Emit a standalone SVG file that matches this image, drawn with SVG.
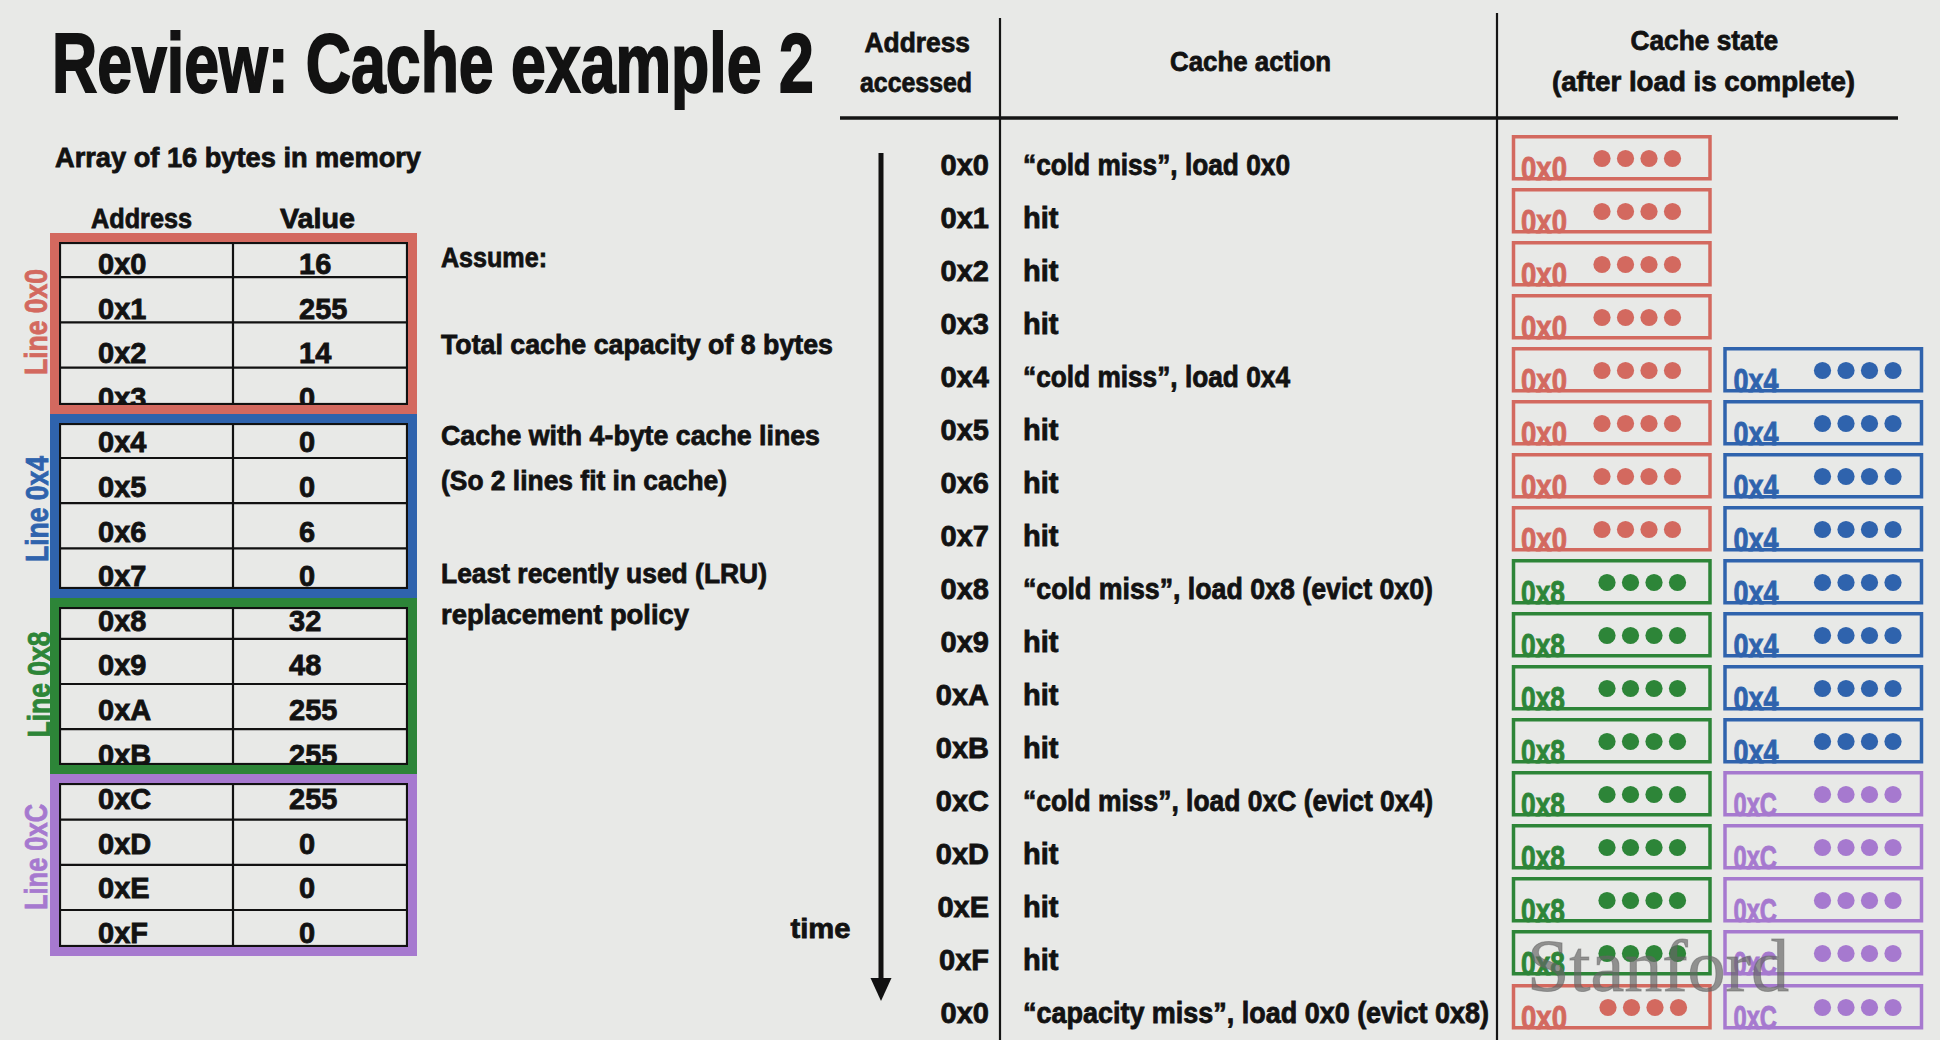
<svg xmlns="http://www.w3.org/2000/svg" xmlns:xlink="http://www.w3.org/1999/xlink" width="1940" height="1040" viewBox="0 0 1940 1040">
<style>
  text { font-family: "Liberation Sans", Arial, Helvetica, sans-serif; font-weight: bold; fill: #121212; stroke: #121212; stroke-width: 0.8px; }
  .title { font-size: 84px; stroke-width: 2px; }
  .sub { font-size: 28.5px; }
  .cell { font-size: 29px; }
  .linelbl { font-size: 31px; }
  .tag { font-size: 34px; stroke-width: 0.9px; }
  .wm { font-family: "Liberation Serif", "Times New Roman", serif; font-weight: normal; font-size: 74px; fill: #666; fill-opacity: 0.68; stroke: #666; stroke-opacity: 0.5; stroke-width: 1px; }
  .grid { stroke: #111; stroke-width: 2.2; fill: none; }
  .band { fill: none; stroke-width: 9; }
  .slot { fill: none; stroke-width: 3.5; }
  .rule { stroke: #151515; fill: none; }
  .c-red { stroke: #d3695f; }
  .c-blue { stroke: #2f63ad; }
  .c-green { stroke: #2d8538; }
  .c-purple { stroke: #a679cf; }
  .f-red { fill: #d3695f; stroke: #d3695f; }
  .f-blue { fill: #2f63ad; stroke: #2f63ad; }
  .f-green { fill: #2d8538; stroke: #2d8538; }
  .f-purple { fill: #a679cf; stroke: #a679cf; }
  use { stroke-width: 0; }
</style>
<defs>
  <!-- four data bytes held by one cache line -->
  <g id="dots">
    <circle cx="0" cy="0" r="8.6"/>
    <circle cx="23.5" cy="0" r="8.6"/>
    <circle cx="47" cy="0" r="8.6"/>
    <circle cx="70.5" cy="0" r="8.6"/>
  </g>
</defs>

<rect x="0" y="0" width="1940" height="1040" fill="#e8e9e7"/>

<g id="title">
  <!-- condensed heading: the bold face is squeezed horizontally -->
  <text class="title" transform="translate(52,92) scale(0.7453,1)" x="0" y="0" textLength="1022" lengthAdjust="spacingAndGlyphs">Review: Cache example 2</text>
  <text class="sub" x="55" y="167" textLength="366" lengthAdjust="spacingAndGlyphs">Array of 16 bytes in memory</text>
</g>

<!-- memory array: address / value table split into 4-byte lines -->
<g id="memory">
  <text class="sub" x="91" y="228" textLength="101" lengthAdjust="spacingAndGlyphs">Address</text>
  <text class="sub" x="280" y="228" textLength="75" lengthAdjust="spacingAndGlyphs">Value</text>

  <g class="cell">
    <text x="98" y="274">0x0</text><text x="299" y="274">16</text>
    <text x="98" y="318.6">0x1</text><text x="299" y="318.6">255</text>
    <text x="98" y="363.2">0x2</text><text x="299" y="363.2">14</text>
    <text x="98" y="407.8">0x3</text><text x="299" y="407.8">0</text>
    <text x="98" y="452.4">0x4</text><text x="299" y="452.4">0</text>
    <text x="98" y="497">0x5</text><text x="299" y="497">0</text>
    <text x="98" y="541.6">0x6</text><text x="299" y="541.6">6</text>
    <text x="98" y="586.2">0x7</text><text x="299" y="586.2">0</text>
    <text x="98" y="630.8">0x8</text><text x="289" y="630.8">32</text>
    <text x="98" y="675.4">0x9</text><text x="289" y="675.4">48</text>
    <text x="98" y="720">0xA</text><text x="289" y="720">255</text>
    <text x="98" y="764.6">0xB</text><text x="289" y="764.6">255</text>
    <text x="98" y="809.2">0xC</text><text x="289" y="809.2">255</text>
    <text x="98" y="853.8">0xD</text><text x="299" y="853.8">0</text>
    <text x="98" y="898.4">0xE</text><text x="299" y="898.4">0</text>
    <text x="98" y="943">0xF</text><text x="299" y="943">0</text>
  </g>

  <g class="grid">
    <line x1="233" y1="233" x2="233" y2="956"/>
    <line x1="60" y1="277.2" x2="407" y2="277.2"/>
    <line x1="60" y1="322.4" x2="407" y2="322.4"/>
    <line x1="60" y1="367.6" x2="407" y2="367.6"/>
    <line x1="60" y1="458" x2="407" y2="458"/>
    <line x1="60" y1="503.2" x2="407" y2="503.2"/>
    <line x1="60" y1="548.4" x2="407" y2="548.4"/>
    <line x1="60" y1="638.8" x2="407" y2="638.8"/>
    <line x1="60" y1="684" x2="407" y2="684"/>
    <line x1="60" y1="729.2" x2="407" y2="729.2"/>
    <line x1="60" y1="819.6" x2="407" y2="819.6"/>
    <line x1="60" y1="864.8" x2="407" y2="864.8"/>
    <line x1="60" y1="910" x2="407" y2="910"/>
    <rect x="60" y="243" width="347" height="161"/>
    <rect x="60" y="424" width="347" height="164"/>
    <rect x="60" y="608" width="347" height="156"/>
    <rect x="60" y="784" width="347" height="162"/>
  </g>

  <g id="line-0x0">
    <rect class="band c-red" x="54.5" y="237.5" width="358" height="172"/>
    <text class="linelbl f-red" transform="translate(47,322) rotate(-90)" text-anchor="middle" textLength="106" lengthAdjust="spacingAndGlyphs">Line 0x0</text>
  </g>
  <g id="line-0x4">
    <rect class="band c-blue" x="54.5" y="418.5" width="358" height="175"/>
    <text class="linelbl f-blue" transform="translate(48,509) rotate(-90)" text-anchor="middle" textLength="106" lengthAdjust="spacingAndGlyphs">Line 0x4</text>
  </g>
  <g id="line-0x8">
    <rect class="band c-green" x="54.5" y="602.5" width="358" height="167"/>
    <text class="linelbl f-green" transform="translate(49.5,684.5) rotate(-90)" text-anchor="middle" textLength="106" lengthAdjust="spacingAndGlyphs">Line 0x8</text>
  </g>
  <g id="line-0xC">
    <rect class="band c-purple" x="54.5" y="778.5" width="358" height="173"/>
    <text class="linelbl f-purple" transform="translate(47,857) rotate(-90)" text-anchor="middle" textLength="106" lengthAdjust="spacingAndGlyphs">Line 0xC</text>
  </g>
</g>

<g id="assumptions" class="sub">
  <text x="441" y="266.5" textLength="106" lengthAdjust="spacingAndGlyphs">Assume:</text>
  <text x="441" y="354" textLength="392" lengthAdjust="spacingAndGlyphs">Total cache capacity of 8 bytes</text>
  <text x="441" y="445" textLength="379" lengthAdjust="spacingAndGlyphs">Cache with 4-byte cache lines</text>
  <text x="441" y="490" textLength="286" lengthAdjust="spacingAndGlyphs">(So 2 lines fit in cache)</text>
  <text x="441" y="583" textLength="326" lengthAdjust="spacingAndGlyphs">Least recently used (LRU)</text>
  <text x="441" y="624" textLength="248" lengthAdjust="spacingAndGlyphs">replacement policy</text>
</g>

<!-- access trace: column headings and rules -->
<g id="trace-header" class="sub">
  <text x="864.5" y="52" textLength="105.5" lengthAdjust="spacingAndGlyphs">Address</text>
  <text x="860" y="92" textLength="112" lengthAdjust="spacingAndGlyphs">accessed</text>
  <text x="1170" y="71" textLength="161" lengthAdjust="spacingAndGlyphs">Cache action</text>
  <text x="1630.5" y="50" textLength="147.5" lengthAdjust="spacingAndGlyphs">Cache state</text>
  <text x="1552" y="91" textLength="303" lengthAdjust="spacingAndGlyphs">(after load is complete)</text>
  <line class="rule" x1="840" y1="118" x2="1898" y2="118" stroke-width="3.5" stroke="#333"/>
  <line class="rule" x1="1000" y1="18" x2="1000" y2="1040" stroke-width="2.2"/>
  <line class="rule" x1="1497" y1="13" x2="1497" y2="1040" stroke-width="2.2"/>
</g>

<g id="trace-rows" class="cell">
  <g text-anchor="end">
    <text x="989" y="175">0x0</text>
    <text x="989" y="228">0x1</text>
    <text x="989" y="281">0x2</text>
    <text x="989" y="334">0x3</text>
    <text x="989" y="387">0x4</text>
    <text x="989" y="440">0x5</text>
    <text x="989" y="493">0x6</text>
    <text x="989" y="546">0x7</text>
    <text x="989" y="599">0x8</text>
    <text x="989" y="652">0x9</text>
    <text x="989" y="705">0xA</text>
    <text x="989" y="758">0xB</text>
    <text x="989" y="811">0xC</text>
    <text x="989" y="864">0xD</text>
    <text x="989" y="917">0xE</text>
    <text x="989" y="970">0xF</text>
    <text x="989" y="1023">0x0</text>
  </g>
  <text x="1023" y="175" textLength="267" lengthAdjust="spacingAndGlyphs">“cold miss”, load 0x0</text>
  <text x="1023" y="228">hit</text>
  <text x="1023" y="281">hit</text>
  <text x="1023" y="334">hit</text>
  <text x="1023" y="387" textLength="267" lengthAdjust="spacingAndGlyphs">“cold miss”, load 0x4</text>
  <text x="1023" y="440">hit</text>
  <text x="1023" y="493">hit</text>
  <text x="1023" y="546">hit</text>
  <text x="1023" y="599" textLength="410" lengthAdjust="spacingAndGlyphs">“cold miss”, load 0x8 (evict 0x0)</text>
  <text x="1023" y="652">hit</text>
  <text x="1023" y="705">hit</text>
  <text x="1023" y="758">hit</text>
  <text x="1023" y="811" textLength="410" lengthAdjust="spacingAndGlyphs">“cold miss”, load 0xC (evict 0x4)</text>
  <text x="1023" y="864">hit</text>
  <text x="1023" y="917">hit</text>
  <text x="1023" y="970">hit</text>
  <text x="1023" y="1023" textLength="466" lengthAdjust="spacingAndGlyphs">“capacity miss”, load 0x0 (evict 0x8)</text>
</g>

<!-- cache contents after each access: slot 1 on the left, slot 2 on the right -->
<g id="cache-state">
  <g id="state-0">
    <rect class="slot c-red" x="1513.5" y="136.75" width="196.5" height="42"/>
    <text class="tag f-red" x="1521" y="180" textLength="46" lengthAdjust="spacingAndGlyphs">0x0</text>
    <use xlink:href="#dots" x="1602" y="158.5" class="f-red"/>
  </g>
  <g id="state-1">
    <rect class="slot c-red" x="1513.5" y="189.75" width="196.5" height="42"/>
    <text class="tag f-red" x="1521" y="233" textLength="46" lengthAdjust="spacingAndGlyphs">0x0</text>
    <use xlink:href="#dots" x="1602" y="211.5" class="f-red"/>
  </g>
  <g id="state-2">
    <rect class="slot c-red" x="1513.5" y="242.75" width="196.5" height="42"/>
    <text class="tag f-red" x="1521" y="286" textLength="46" lengthAdjust="spacingAndGlyphs">0x0</text>
    <use xlink:href="#dots" x="1602" y="264.5" class="f-red"/>
  </g>
  <g id="state-3">
    <rect class="slot c-red" x="1513.5" y="295.75" width="196.5" height="42"/>
    <text class="tag f-red" x="1521" y="339" textLength="46" lengthAdjust="spacingAndGlyphs">0x0</text>
    <use xlink:href="#dots" x="1602" y="317.5" class="f-red"/>
  </g>
  <g id="state-4">
    <rect class="slot c-red" x="1513.5" y="348.75" width="196.5" height="42"/>
    <text class="tag f-red" x="1521" y="392" textLength="46" lengthAdjust="spacingAndGlyphs">0x0</text>
    <use xlink:href="#dots" x="1602" y="370.5" class="f-red"/>
    <rect class="slot c-blue" x="1725" y="348.75" width="196.5" height="42"/>
    <text class="tag f-blue" x="1733.5" y="392" textLength="45" lengthAdjust="spacingAndGlyphs">0x4</text>
    <use xlink:href="#dots" x="1822.5" y="370.5" class="f-blue"/>
  </g>
  <g id="state-5">
    <rect class="slot c-red" x="1513.5" y="401.75" width="196.5" height="42"/>
    <text class="tag f-red" x="1521" y="445" textLength="46" lengthAdjust="spacingAndGlyphs">0x0</text>
    <use xlink:href="#dots" x="1602" y="423.5" class="f-red"/>
    <rect class="slot c-blue" x="1725" y="401.75" width="196.5" height="42"/>
    <text class="tag f-blue" x="1733.5" y="445" textLength="45" lengthAdjust="spacingAndGlyphs">0x4</text>
    <use xlink:href="#dots" x="1822.5" y="423.5" class="f-blue"/>
  </g>
  <g id="state-6">
    <rect class="slot c-red" x="1513.5" y="454.75" width="196.5" height="42"/>
    <text class="tag f-red" x="1521" y="498" textLength="46" lengthAdjust="spacingAndGlyphs">0x0</text>
    <use xlink:href="#dots" x="1602" y="476.5" class="f-red"/>
    <rect class="slot c-blue" x="1725" y="454.75" width="196.5" height="42"/>
    <text class="tag f-blue" x="1733.5" y="498" textLength="45" lengthAdjust="spacingAndGlyphs">0x4</text>
    <use xlink:href="#dots" x="1822.5" y="476.5" class="f-blue"/>
  </g>
  <g id="state-7">
    <rect class="slot c-red" x="1513.5" y="507.75" width="196.5" height="42"/>
    <text class="tag f-red" x="1521" y="551" textLength="46" lengthAdjust="spacingAndGlyphs">0x0</text>
    <use xlink:href="#dots" x="1602" y="529.5" class="f-red"/>
    <rect class="slot c-blue" x="1725" y="507.75" width="196.5" height="42"/>
    <text class="tag f-blue" x="1733.5" y="551" textLength="45" lengthAdjust="spacingAndGlyphs">0x4</text>
    <use xlink:href="#dots" x="1822.5" y="529.5" class="f-blue"/>
  </g>
  <g id="state-8">
    <rect class="slot c-green" x="1513.5" y="560.75" width="196.5" height="42"/>
    <text class="tag f-green" x="1521" y="604" textLength="44" lengthAdjust="spacingAndGlyphs">0x8</text>
    <use xlink:href="#dots" x="1607" y="582.5" class="f-green"/>
    <rect class="slot c-blue" x="1725" y="560.75" width="196.5" height="42"/>
    <text class="tag f-blue" x="1733.5" y="604" textLength="45" lengthAdjust="spacingAndGlyphs">0x4</text>
    <use xlink:href="#dots" x="1822.5" y="582.5" class="f-blue"/>
  </g>
  <g id="state-9">
    <rect class="slot c-green" x="1513.5" y="613.75" width="196.5" height="42"/>
    <text class="tag f-green" x="1521" y="657" textLength="44" lengthAdjust="spacingAndGlyphs">0x8</text>
    <use xlink:href="#dots" x="1607" y="635.5" class="f-green"/>
    <rect class="slot c-blue" x="1725" y="613.75" width="196.5" height="42"/>
    <text class="tag f-blue" x="1733.5" y="657" textLength="45" lengthAdjust="spacingAndGlyphs">0x4</text>
    <use xlink:href="#dots" x="1822.5" y="635.5" class="f-blue"/>
  </g>
  <g id="state-10">
    <rect class="slot c-green" x="1513.5" y="666.75" width="196.5" height="42"/>
    <text class="tag f-green" x="1521" y="710" textLength="44" lengthAdjust="spacingAndGlyphs">0x8</text>
    <use xlink:href="#dots" x="1607" y="688.5" class="f-green"/>
    <rect class="slot c-blue" x="1725" y="666.75" width="196.5" height="42"/>
    <text class="tag f-blue" x="1733.5" y="710" textLength="45" lengthAdjust="spacingAndGlyphs">0x4</text>
    <use xlink:href="#dots" x="1822.5" y="688.5" class="f-blue"/>
  </g>
  <g id="state-11">
    <rect class="slot c-green" x="1513.5" y="719.75" width="196.5" height="42"/>
    <text class="tag f-green" x="1521" y="763" textLength="44" lengthAdjust="spacingAndGlyphs">0x8</text>
    <use xlink:href="#dots" x="1607" y="741.5" class="f-green"/>
    <rect class="slot c-blue" x="1725" y="719.75" width="196.5" height="42"/>
    <text class="tag f-blue" x="1733.5" y="763" textLength="45" lengthAdjust="spacingAndGlyphs">0x4</text>
    <use xlink:href="#dots" x="1822.5" y="741.5" class="f-blue"/>
  </g>
  <g id="state-12">
    <rect class="slot c-green" x="1513.5" y="772.75" width="196.5" height="42"/>
    <text class="tag f-green" x="1521" y="816" textLength="44" lengthAdjust="spacingAndGlyphs">0x8</text>
    <use xlink:href="#dots" x="1607" y="794.5" class="f-green"/>
    <rect class="slot c-purple" x="1725" y="772.75" width="196.5" height="42"/>
    <text class="tag f-purple" x="1733.5" y="816" textLength="43.5" lengthAdjust="spacingAndGlyphs">0xC</text>
    <use xlink:href="#dots" x="1822.5" y="794.5" class="f-purple"/>
  </g>
  <g id="state-13">
    <rect class="slot c-green" x="1513.5" y="825.75" width="196.5" height="42"/>
    <text class="tag f-green" x="1521" y="869" textLength="44" lengthAdjust="spacingAndGlyphs">0x8</text>
    <use xlink:href="#dots" x="1607" y="847.5" class="f-green"/>
    <rect class="slot c-purple" x="1725" y="825.75" width="196.5" height="42"/>
    <text class="tag f-purple" x="1733.5" y="869" textLength="43.5" lengthAdjust="spacingAndGlyphs">0xC</text>
    <use xlink:href="#dots" x="1822.5" y="847.5" class="f-purple"/>
  </g>
  <g id="state-14">
    <rect class="slot c-green" x="1513.5" y="878.75" width="196.5" height="42"/>
    <text class="tag f-green" x="1521" y="922" textLength="44" lengthAdjust="spacingAndGlyphs">0x8</text>
    <use xlink:href="#dots" x="1607" y="900.5" class="f-green"/>
    <rect class="slot c-purple" x="1725" y="878.75" width="196.5" height="42"/>
    <text class="tag f-purple" x="1733.5" y="922" textLength="43.5" lengthAdjust="spacingAndGlyphs">0xC</text>
    <use xlink:href="#dots" x="1822.5" y="900.5" class="f-purple"/>
  </g>
  <g id="state-15">
    <rect class="slot c-green" x="1513.5" y="931.75" width="196.5" height="42"/>
    <text class="tag f-green" x="1521" y="975" textLength="44" lengthAdjust="spacingAndGlyphs">0x8</text>
    <use xlink:href="#dots" x="1607" y="953.5" class="f-green"/>
    <rect class="slot c-purple" x="1725" y="931.75" width="196.5" height="42"/>
    <text class="tag f-purple" x="1733.5" y="975" textLength="43.5" lengthAdjust="spacingAndGlyphs">0xC</text>
    <use xlink:href="#dots" x="1822.5" y="953.5" class="f-purple"/>
  </g>
  <g id="state-16">
    <rect class="slot c-red" x="1513.5" y="985.75" width="196.5" height="42"/>
    <text class="tag f-red" x="1521" y="1029" textLength="46" lengthAdjust="spacingAndGlyphs">0x0</text>
    <use xlink:href="#dots" x="1608" y="1007.5" class="f-red"/>
    <rect class="slot c-purple" x="1725" y="985.75" width="196.5" height="42"/>
    <text class="tag f-purple" x="1733.5" y="1029" textLength="43.5" lengthAdjust="spacingAndGlyphs">0xC</text>
    <use xlink:href="#dots" x="1822.5" y="1007.5" class="f-purple"/>
  </g>
</g>

<!-- time axis -->
<g id="connectors">
  <line x1="881" y1="153" x2="881" y2="982" stroke="#111" stroke-width="5"/>
  <polygon points="870.5,978 891.5,978 881,1001" fill="#111"/>
  <text class="sub" x="790.5" y="938" textLength="60" lengthAdjust="spacingAndGlyphs">time</text>
</g>

<text class="wm" x="1527" y="991" textLength="262" lengthAdjust="spacingAndGlyphs">Stanford</text>
</svg>
